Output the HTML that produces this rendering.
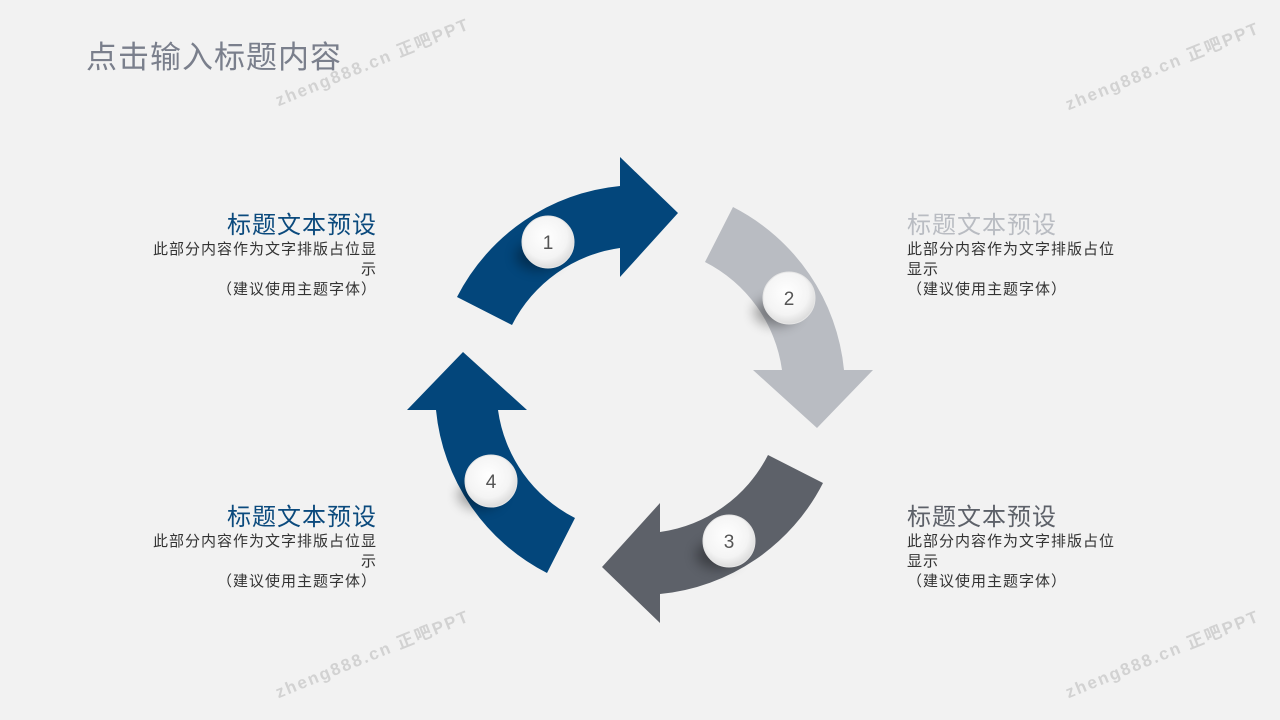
<!DOCTYPE html>
<html><head><meta charset="utf-8"><style>
body{margin:0;width:1280px;height:720px;background:#f2f2f2;overflow:hidden;position:relative;font-family:"Liberation Sans","Noto Sans CJK SC",sans-serif}
.h{position:absolute;left:86px;top:32px;font-size:31px;letter-spacing:1px;color:#7a7f8c}
.blk{position:absolute;font-size:15px;letter-spacing:1px;color:#333;line-height:20px}
.blk .t{font-size:24px;letter-spacing:1px;line-height:28px;margin-bottom:0px}
.l{text-align:right;left:149px;width:228px}
.r{text-align:left;left:907px;width:216px}
.wm{position:absolute;font-size:17px;color:#d2d2d2;transform:rotate(-22deg);letter-spacing:2px;font-weight:bold}
</style></head><body>
<div class="h">点击输入标题内容</div>
<div class="wm" style="left:268px;top:48px">zheng888.cn 正吧PPT</div>
<div class="wm" style="left:1058px;top:52px">zheng888.cn 正吧PPT</div>
<div class="wm" style="left:268px;top:640px">zheng888.cn 正吧PPT</div>
<div class="wm" style="left:1058px;top:640px">zheng888.cn 正吧PPT</div>
<svg width="1280" height="720" style="position:absolute;left:0;top:0">
<defs>
<radialGradient id="g" cx="45%" cy="40%" r="60%"><stop offset="0" stop-color="#ffffff"/><stop offset="0.7" stop-color="#f4f4f4"/><stop offset="1" stop-color="#dcdcdc"/></radialGradient>
<filter id="s" x="-80%" y="-80%" width="260%" height="260%"><feGaussianBlur stdDeviation="6"/></filter>
<path id="a" d="M457 297 A205 205 0 0 1 620 186 L620 157 L678 213 L620 277 L620 248 A143 143 0 0 0 512 325 Z"/>
</defs>
<use href="#a" fill="#03467b"/>
<use href="#a" fill="#b9bcc2" transform="rotate(90 640 390)"/>
<use href="#a" fill="#5d6169" transform="rotate(180 640 390)"/>
<use href="#a" fill="#03467b" transform="rotate(270 640 390)"/>
<g font-size="19" fill="#555" text-anchor="middle" font-family="Liberation Sans,sans-serif">
<ellipse cx="538" cy="256" rx="22" ry="14" fill="#000" opacity=".35" filter="url(#s)"/>
<circle cx="548" cy="242" r="26" fill="url(#g)" stroke="#e6e6e6"/><text x="548" y="249">1</text>
<ellipse cx="776" cy="312" rx="22" ry="14" fill="#000" opacity=".35" filter="url(#s)"/>
<circle cx="789" cy="298" r="26" fill="url(#g)" stroke="#e6e6e6"/><text x="789" y="305">2</text>
<ellipse cx="718" cy="555" rx="22" ry="14" fill="#000" opacity=".35" filter="url(#s)"/>
<circle cx="729" cy="541" r="26" fill="url(#g)" stroke="#e6e6e6"/><text x="729" y="548">3</text>
<ellipse cx="480" cy="495" rx="22" ry="14" fill="#000" opacity=".35" filter="url(#s)"/>
<circle cx="491" cy="481" r="26" fill="url(#g)" stroke="#e6e6e6"/><text x="491" y="488">4</text>
</g>
</svg>
<div class="blk l" style="top:212px"><div class="t" style="color:#0b4a7d">标题文本预设</div>此部分内容作为文字排版占位显示<br>（建议使用主题字体）</div>
<div class="blk r" style="top:212px"><div class="t" style="color:#b9bcc2">标题文本预设</div>此部分内容作为文字排版占位显示<br>（建议使用主题字体）</div>
<div class="blk l" style="top:504px"><div class="t" style="color:#0b4a7d">标题文本预设</div>此部分内容作为文字排版占位显示<br>（建议使用主题字体）</div>
<div class="blk r" style="top:504px"><div class="t" style="color:#5d6169">标题文本预设</div>此部分内容作为文字排版占位显示<br>（建议使用主题字体）</div>
</body></html>
